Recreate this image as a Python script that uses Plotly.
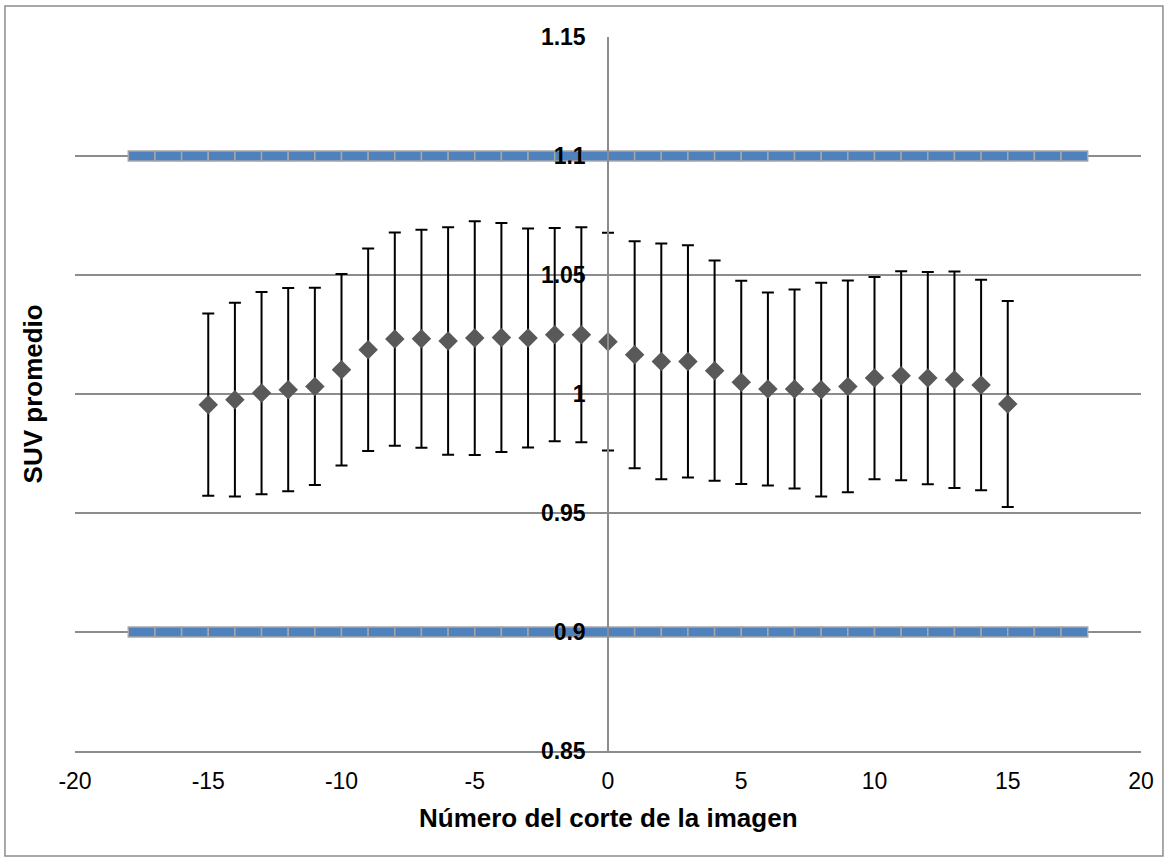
import plotly.graph_objects as go

# Mean SUV per image slice, with its standard deviation
slice_no = list(range(-15, 16))
suv_mean = [0.9955, 0.9976, 1.0004, 1.0018, 1.0032, 1.0102, 1.0186, 1.0231,
            1.0232, 1.0223, 1.0235, 1.0237, 1.0235, 1.0249, 1.0249, 1.0220,
            1.0165, 1.0137, 1.0137, 1.0098, 1.0049, 1.0021, 1.0021, 1.0018,
            1.0032, 1.0067, 1.0077, 1.0067, 1.0060, 1.0038, 0.9958]
suv_sd = [0.0383, 0.0407, 0.0425, 0.0427, 0.0414, 0.0402, 0.0425, 0.0448,
          0.0458, 0.0478, 0.0491, 0.0481, 0.0460, 0.0448, 0.0452, 0.0457,
          0.0477, 0.0495, 0.0488, 0.0463, 0.0427, 0.0405, 0.0418, 0.0449,
          0.0445, 0.0425, 0.0439, 0.0446, 0.0455, 0.0442, 0.0433]

# Tolerance limits (+/-10 %) drawn as segmented bands
band_start = list(range(-18, 18))
limit_levels = [0.9, 1.1]

y_ticks = [0.85, 0.9, 0.95, 1.0, 1.05, 1.1, 1.15]
y_tick_text = ["0.85", "0.9", "0.95", "1", "1.05", "1.1", "1.15"]
x_ticks = [-20, -15, -10, -5, 0, 5, 10, 15, 20]
x_tick_text = ["-20", "-15", "-10", "-5", "0", "5", "10", "15", "20"]

BAND_T = 0.0042
GRID = "#8C8C8C"

fig = go.Figure()

for lvl in limit_levels:
    fig.add_trace(go.Bar(
        x=band_start,
        y=[BAND_T] * len(band_start),
        base=lvl - BAND_T / 2,
        width=1,
        offset=0,
        marker=dict(color="#4F81BD", line=dict(color="#A6A6A6", width=1.5)),
        showlegend=False,
        hoverinfo="skip",
    ))

fig.add_trace(go.Scatter(
    x=slice_no,
    y=suv_mean,
    mode="markers",
    marker=dict(symbol="diamond", size=15, color="#595959"),
    error_y=dict(type="data", array=suv_sd, color="black", thickness=2, width=6),
    showlegend=False,
))

fig.update_layout(
    width=1172,
    height=862,
    paper_bgcolor="white",
    plot_bgcolor="white",
    barmode="overlay",
    margin=dict(l=75, r=31, t=37, b=111),
    font=dict(family="Arial, Liberation Sans, sans-serif", color="black"),
    xaxis=dict(
        range=[-20, 20],
        tickvals=x_ticks,
        ticktext=x_tick_text,
        showgrid=False,
        zeroline=False,
        showline=True,
        linecolor=GRID,
        linewidth=1.5,
        ticks="",
        ticklabelstandoff=9,
        tickfont=dict(size=23),
    ),
    yaxis=dict(
        range=[0.85, 1.15],
        tickvals=y_ticks,
        ticktext=["<b>%s</b>" % t for t in y_tick_text],
        showgrid=True,
        gridcolor=GRID,
        gridwidth=1.5,
        zeroline=False,
        showline=True,
        linecolor=GRID,
        linewidth=1.5,
        anchor="free",
        position=0.5,
        ticks="",
        ticklabelstandoff=17,
        tickfont=dict(size=23),
    ),
    shapes=[dict(
        type="rect", xref="paper", yref="paper",
        x0=-0.0657, x1=1.0206, y0=-0.1471, y1=1.0434,
        line=dict(color="#8C8C8C", width=1.5),
    )],
    annotations=[
        dict(text="<b>Número del corte de la imagen</b>", xref="paper", yref="paper",
             x=0.5, y=-0.094, xanchor="center", yanchor="middle",
             showarrow=False, font=dict(size=26)),
        dict(text="<b>SUV promedio</b>", xref="paper", yref="paper",
             x=-0.039, y=0.5, xanchor="center", yanchor="middle", textangle=-90,
             showarrow=False, font=dict(size=26)),
    ],
)

fig.write_html("out.html")
